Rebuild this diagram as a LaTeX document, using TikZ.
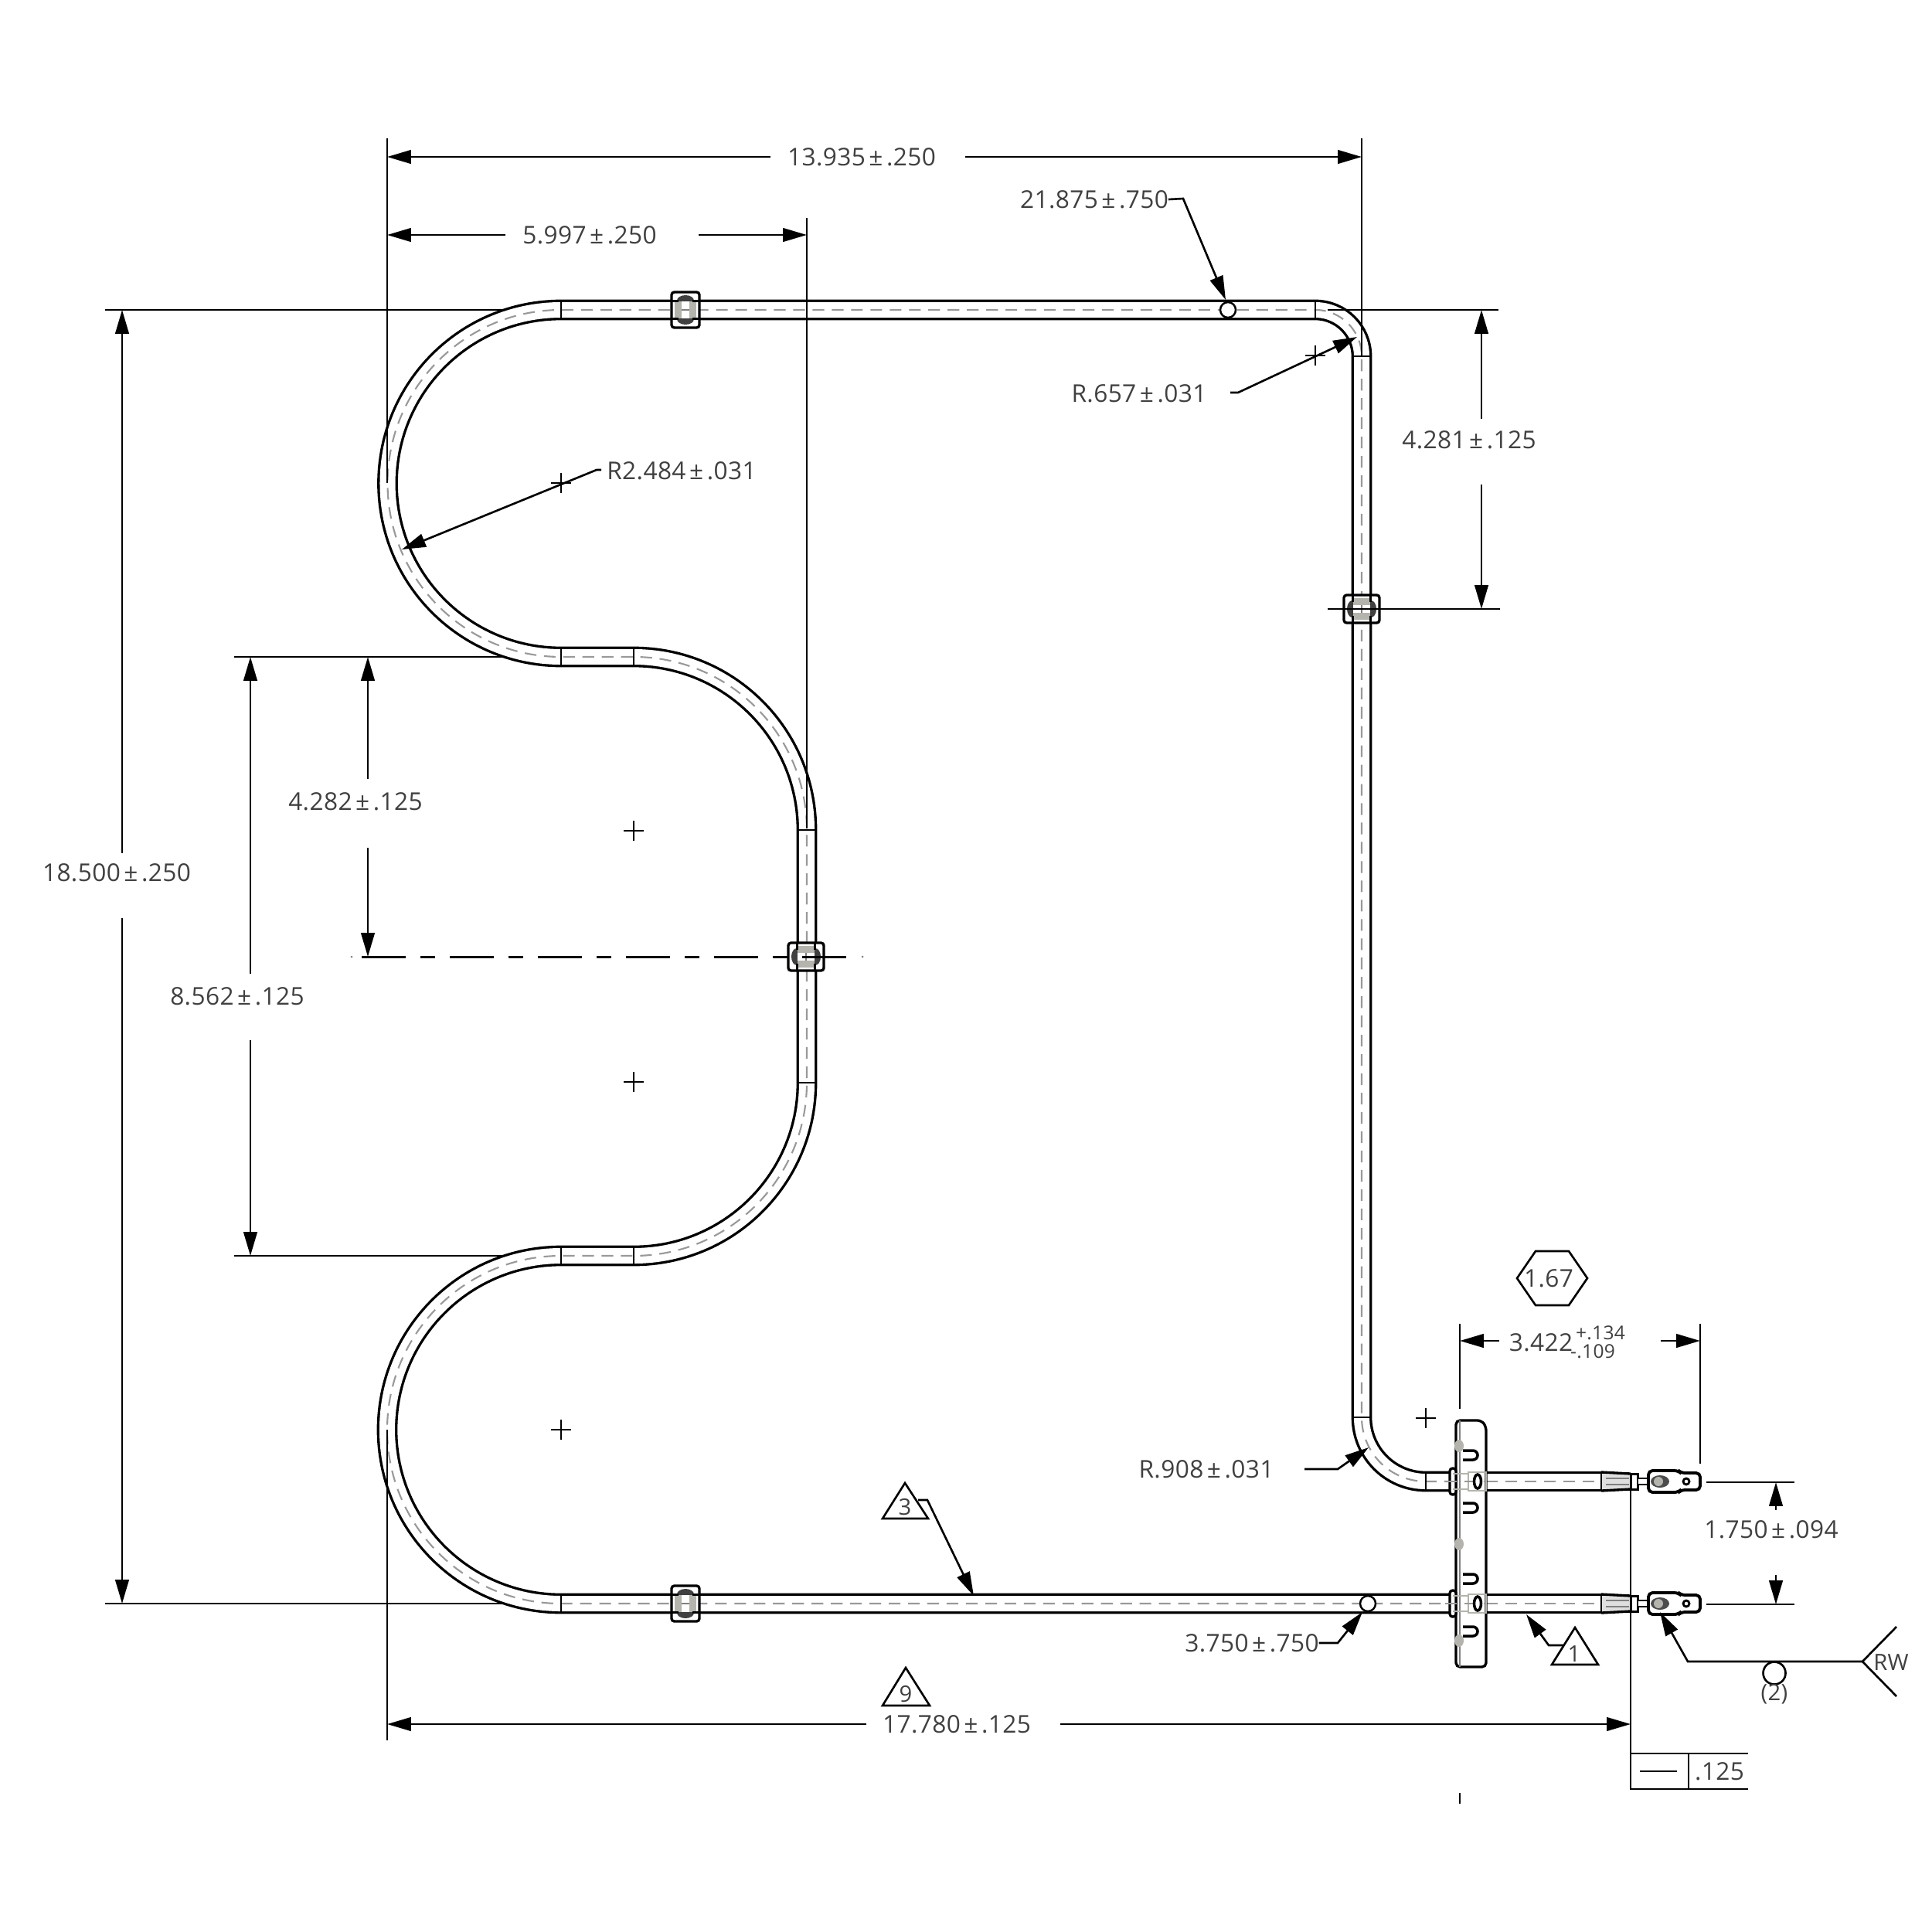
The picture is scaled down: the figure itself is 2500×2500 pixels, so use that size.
\documentclass[tikz,border=0pt]{standalone}
\usepackage{fontspec}
\setmainfont{Open Sans}[LetterSpace=1.2]
\usetikzlibrary{arrows.meta,calc}
\definecolor{inkgray}{HTML}{404040}
\definecolor{weldgray}{HTML}{B4B4AC}
\newcommand{\plmi}{\kern1.3pt±\kern1.3pt}
\tikzset{
    dimline/.style={line width=0.75pt},
    dimarrow/.style={line width=0.75pt,-{Stealth[length=8.8pt,width=5pt,inset=0pt]}},
    dimtext/.style={inner sep=0,outer sep=0,text=inkgray,font=\fontsize{9}{11}\selectfont},
    notetext/.style={dimtext,font=\fontsize{8.3}{10}\selectfont},
    tube/.style={line width=0.95pt,double=white,double distance=5.7pt},
    tubecenter/.style={line width=0.6pt,draw=gray!80,dash pattern=on 4.3pt off 2.8pt},
    tubejoint/.style={line width=0.6pt},
    crossmark/.style={line width=0.6pt},
    pics/tubeclip/.style={code={
        \fill[white] (-18,-23) rectangle (18,23);
        \fill[black!75] (0,-12) ellipse [x radius=11,y radius=7];
        \fill[black!75] (0,12) ellipse [x radius=11,y radius=7];
        \fill[white] (-18,-11) rectangle (18,11);
        \fill[weldgray] (-14,-11) rectangle (-5,11);
        \fill[weldgray] (5,-11) rectangle (14,11);
        \draw[line width=0.95pt] (-18,-11.5) -- (-9,-11.5) (9,-11.5) -- (18,-11.5);
        \draw[line width=0.95pt] (-18,11.5) -- (-9,11.5) (9,11.5) -- (18,11.5);
        \draw[line width=0.6pt,gray] (-5,0) -- (5,0);
        \draw[line width=0.95pt,rounded corners=1pt] (-18,-23) rectangle (18,23);
    }},
    pics/wireend/.style={code={
        % ferrule, collar, pin and terminal of one lead
        \fill[white] (0,-12) rectangle (38,12);
        \fill[gray!25] (0,-10) rectangle (38,10);
        \draw[line width=0.95pt] (0,-12) -- (38,-10) (0,12) -- (38,10);
        \draw[line width=0.8pt] (0,-11) -- (0,11);
        \draw[gray,line width=0.5pt] (6,-4) -- (36,-4) (6,4) -- (36,4);
        \draw[line width=0.85pt,fill=white] (38,-10) rectangle (47,10);
        \draw[line width=0.8pt,fill=white] (47,-4) rectangle (66,4);
        \draw[line width=1.1pt,fill=white,rounded corners=1.5pt]
            (61,-14) -- (100,-14) -- (103,-11) -- (128,-11) -- (128,11) -- (103,11) -- (100,14) -- (61,14) -- cycle;
        \fill[black!70] (76,0) ellipse [x radius=12,y radius=8];
        \fill[weldgray] (74,0) circle (6);
        \draw[line width=0.8pt,fill=white] (110,0) circle (4);
    }},
}
\begin{document}
\begin{tikzpicture}[x=0.01cm,y=-0.01cm]
    \useasboundingbox (0,0) rectangle (2500,2500);
    % extension lines running under the tube
    \draw[dimline] (136,401) -- (726,401);
    \draw[dimline] (136,2075) -- (726,2075);
    \draw[dimline] (303,850) -- (726,850);
    \draw[dimline] (303,1625) -- (726,1625);
    % tube
    \draw[tube] (1884,1917) -- (1845,1917) arc[start angle=90,end angle=180,radius=83]
        -- (1762,461) arc[start angle=0,end angle=-90,radius=60]
        -- (726,401) arc[start angle=-90,end angle=-270,radius=224.5]
        -- (820,850) arc[start angle=-90,end angle=0,radius=224]
        -- (1044,1401) arc[start angle=0,end angle=90,radius=224]
        -- (726,1625) arc[start angle=-90,end angle=-270,radius=225]
        -- (1884,2075);
    \draw[tubecenter] (1884,1917) -- (1845,1917) arc[start angle=90,end angle=180,radius=83]
        -- (1762,461) arc[start angle=0,end angle=-90,radius=60]
        -- (726,401) arc[start angle=-90,end angle=-270,radius=224.5]
        -- (820,850) arc[start angle=-90,end angle=0,radius=224]
        -- (1044,1401) arc[start angle=0,end angle=90,radius=224]
        -- (726,1625) arc[start angle=-90,end angle=-270,radius=225]
        -- (1884,2075);
    \draw[tube] (1923,1917) -- (2072,1917);
    \draw[tube] (1923,2075) -- (2072,2075);
    \draw[tubecenter] (1923,1917) -- (2072,1917);
    \draw[tubecenter] (1923,2075) -- (2072,2075);
    \foreach \jx/\jy in {726/401,726/850,820/850,726/1625,820/1625,726/2075,1702/401,1845/1917}{
        \draw[tubejoint] (\jx,\jy-12) -- (\jx,\jy+12);
    }
    \foreach \jx/\jy in {1044/1074,1044/1401,1762/461,1762/1834}{
        \draw[tubejoint] (\jx-12,\jy) -- (\jx+12,\jy);
    }
    % clips, small marks
    \pic at (887,401) {tubeclip};
    \pic at (887,2075) {tubeclip};
    \pic[rotate=90] at (1043,1238) {tubeclip};
    \pic[rotate=90] at (1762,788) {tubeclip};
    \draw[line width=0.7pt,fill=white] (1589,401) circle (10);
    \draw[line width=0.7pt,fill=white] (1770,2075) circle (10);
    \foreach \cx/\cy in {726/625,820/1075,820/1400,726/1850,1702/460,1845/1835}{
        \draw[crossmark] (\cx-13,\cy) -- (\cx+13,\cy) (\cx,\cy-13) -- (\cx,\cy+13);
    }
    % plate
    \draw[line width=0.95pt,fill=white,rounded corners=1.5pt] (1884,1838) -- (1917,1838)
        -- (1923,1846) -- (1923,2157) -- (1884,2157) -- cycle;
    \draw[gray,line width=0.7pt] (1889,1838) -- (1889,2157);
    \foreach \sy in {1883,1951,2043,2111}{
        \draw[line width=1pt] (1893,\sy-6) -- (1906,\sy-6) arc[start angle=-90,end angle=90,radius=6] -- (1893,\sy+6);
    }
    \foreach \by in {1871,1998,2123}{
        \fill[weldgray] (1888,\by) ellipse [x radius=6,y radius=8];
    }
    \foreach \py in {1917,2075}{
        \draw[line width=0.95pt,fill=white,rounded corners=1pt] (1876,\py-17) rectangle (1884,\py+17);
        \draw[weldgray,line width=0.6pt] (1880,\py-10) -- (1900,\py-10) (1880,\py+10) -- (1900,\py+10);
        \draw[weldgray,line width=0.6pt] (1900,\py-12) rectangle (1923,\py+12);
        \draw[gray!80,line width=0.55pt,dash pattern=on 4.3pt off 2.8pt] (1870,\py) -- (1923,\py);
        \draw[line width=1pt,fill=white] (1912,\py) ellipse [x radius=4.5,y radius=9];
    }
    % lead ends
    \pic at (2072,1917) {wireend};
    \pic at (2072,2075) {wireend};
    % center line
    \fill[gray] (455,1238) circle (1.5);
    \fill[gray] (1116,1238) circle (1.5);
    \draw[line width=0.85pt,dash pattern=on 16.2pt off 5.4pt on 5.4pt off 5.4pt] (468,1238) -- (1096,1238);
    % extension lines over the tube
    \draw[dimline] (501,179) -- (501,625);
    \draw[dimline] (501,1850) -- (501,2252);
    \draw[dimline] (1762,179) -- (1762,462);
    \draw[dimline] (1044,282) -- (1044,1072);
    \draw[dimline] (1718,401) -- (1939,401);
    \draw[dimline] (1718,788) -- (1941,788);
    \draw[dimline] (2110,1918) -- (2110,2315);
    \draw[dimline] (1889,1713) -- (1889,1823);
    \draw[dimline] (2200,1713) -- (2200,1894);
    \draw[dimline] (2208,1918) -- (2322,1918);
    \draw[dimline] (2208,2076) -- (2322,2076);
    \draw[dimline] (1889,2320) -- (1889,2334);
    % dimensions
    \node[dimtext](d13935) at (1115,203) {13.935\plmi.250};
    \draw[dimarrow] ($(d13935)+(-118,0)$) -- (501,203);
    \draw[dimarrow] ($(d13935)+(134,0)$) -- (1762,203);
    \node[dimtext](d5997) at (763,304) {5.997\plmi.250};
    \draw[dimarrow] ($(d5997)+(-109,0)$) -- (501,304);
    \draw[dimarrow] ($(d5997)+(141,0)$) -- (1044,304);
    \node[dimtext](d18500) at (151,1129) {18.500\plmi.250};
    \draw[dimarrow] ($(d18500)+(7,-25)$) -- (158,401);
    \draw[dimarrow] ($(d18500)+(7,59)$) -- (158,2075);
    \node[dimtext](d8562) at (307,1289) {8.562\plmi.125};
    \draw[dimarrow] ($(d8562)+(17,-29)$) -- (324,850);
    \draw[dimarrow] ($(d8562)+(17,57)$) -- (324,1625);
    \node[dimtext](d4282) at (460,1037) {4.282\plmi.125};
    \draw[dimarrow] ($(d4282)+(16,-29)$) -- (476,850);
    \draw[dimarrow] ($(d4282)+(16,60)$) -- (476,1238);
    \node[dimtext](d4281) at (1901,569) {4.281\plmi.125};
    \draw[dimarrow] ($(d4281)+(16,-27)$) -- (1917,401);
    \draw[dimarrow] ($(d4281)+(16,58)$) -- (1917,788);
    \node[dimtext](d17780) at (1238,2231) {17.780\plmi.125};
    \draw[dimarrow] ($(d17780)+(-117,0)$) -- (501,2231);
    \draw[dimarrow] ($(d17780)+(134,0)$) -- (2110,2231);
    \node[dimtext](d1750) at (2292,1979) {1.750\plmi.094};
    \draw[dimarrow] ($(d1750)+(6,-25)$) -- (2298,1918);
    \draw[dimarrow] ($(d1750)+(6,59)$) -- (2298,2076);
    \node[dimtext](d3422) at (1994,1737) {3.422};
    \node[dimtext,font=\fontsize{7}{8}\selectfont](d3422up) at (2071,1725) {+.134};
    \node[dimtext,font=\fontsize{7}{8}\selectfont](d3422lo) at (2061,1749) {-.109};
    \draw[dimarrow] ($(d3422)+(-54,-2)$) -- (1889,1735);
    \draw[dimarrow] ($(d3422)+(155,-2)$) -- (2200,1735);
    % hexagon
    \node[dimtext](hex167) at (2004,1654) {1.67};
    \draw[dimline] (1963,1654) -- (1987,1619) -- (2030,1619) -- (2054,1654) -- (2030,1689) -- (1987,1689) -- cycle;
    % leaders
    \node[dimtext](n21875) at (1416,258) {21.875\plmi.750};
    \draw[dimarrow] (n21875.east) -- (1531,257) -- (1586,388);
    \node[dimtext](r657) at (1474,509) {R.657\plmi.031};
    \draw[dimarrow] (1592,508) -- (1602,508) -- (1756,436);
    \node[dimtext](r2484) at (882,609) {R2.484\plmi.031};
    \draw[dimarrow] (778,608) -- (772,608) -- (520,711);
    \node[dimtext](r908) at (1561,1901) {R.908\plmi.031};
    \draw[dimarrow] (1688,1901) -- (1731,1901) -- (1771,1873);
    \node[dimtext](n3750) at (1620,2126) {3.750\plmi.750};
    \draw[dimarrow] (n3750.east) -- (1731,2126) -- (1763,2086);
    % triangle notes
    \node[notetext](note3) at (1171,1950) {3};
    \draw[dimline] (1171,1919) -- (1201,1965) -- (1142,1965) -- cycle;
    \draw[dimarrow] (1188,1941) -- (1200,1941) -- (1260,2065);
    \node[notetext](note9) at (1172,2192) {9};
    \draw[dimline] (1172,2158) -- (1203,2207) -- (1142,2207) -- cycle;
    \node[notetext](note1) at (2037,2140) {1};
    \draw[dimline] (2038,2106) -- (2068,2154) -- (2008,2154) -- cycle;
    \draw[dimarrow] (2023,2129) -- (2004,2129) -- (1975,2089);
    % weld symbol
    \draw[dimarrow] (2410,2150) -- (2184,2150) -- (2148,2086);
    \draw[dimline] (2454,2105) -- (2410,2150) -- (2454,2195);
    \draw[dimline,fill=white] (2296,2165) circle (14.5);
    \node[notetext](rw) at (2447,2151) {RW};
    \node[notetext](welds) at (2296,2192) {(2)};
    % tolerance frame
    \draw[dimline] (2262,2269) -- (2110,2269) -- (2110,2315) -- (2262,2315);
    \draw[dimline] (2185,2269) -- (2185,2315);
    \draw[dimline] (2122,2292) -- (2170,2292);
    \node[dimtext](tol125) at (2225,2292) {.125};
\end{tikzpicture}
\end{document}
